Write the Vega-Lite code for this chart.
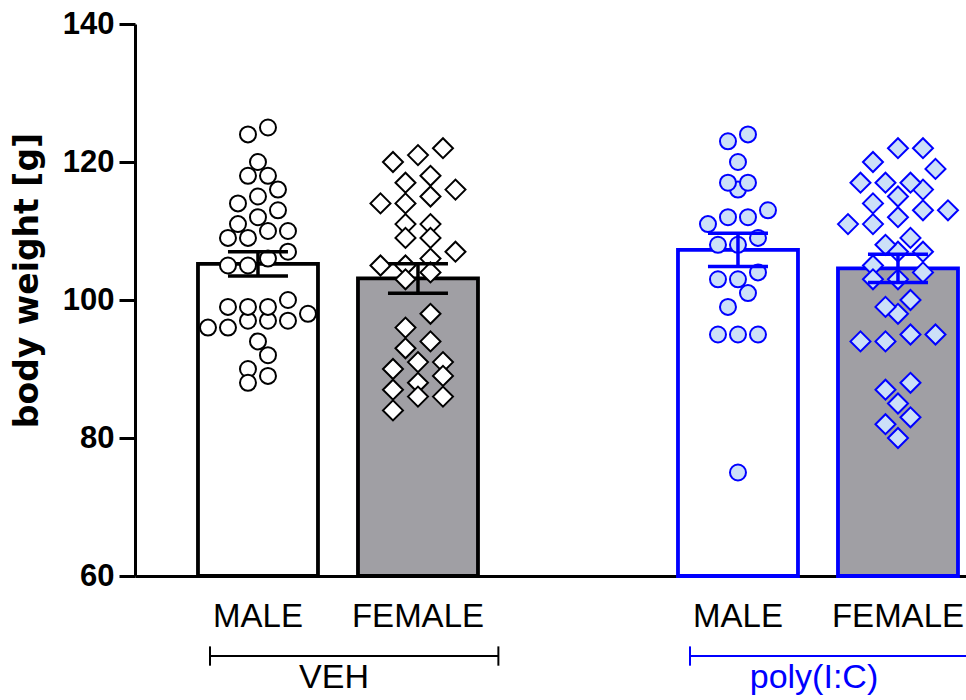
{
  "$schema": "https://vega.github.io/schema/vega-lite/v6.json",
  "width": 831,
  "height": 552,
  "autosize": {"type": "none"},
  "padding": {"left": 135, "top": 24, "right": 0, "bottom": 124},
  "background": "white",
  "config": {"view": {"stroke": null}, "font": "Liberation Sans"},
  "datasets": {
    "w": [
      {"g":"VEH","s":"MALE","w":124},{"g":"VEH","s":"MALE","w":125},{"g":"VEH","s":"MALE","w":120},{"g":"VEH","s":"MALE","w":118},{"g":"VEH","s":"MALE","w":118},{"g":"VEH","s":"MALE","w":116},{"g":"VEH","s":"MALE","w":115},{"g":"VEH","s":"MALE","w":114},{"g":"VEH","s":"MALE","w":113},{"g":"VEH","s":"MALE","w":112},{"g":"VEH","s":"MALE","w":111},{"g":"VEH","s":"MALE","w":109},{"g":"VEH","s":"MALE","w":109},{"g":"VEH","s":"MALE","w":110},{"g":"VEH","s":"MALE","w":110},{"g":"VEH","s":"MALE","w":107},{"g":"VEH","s":"MALE","w":106},{"g":"VEH","s":"MALE","w":105},{"g":"VEH","s":"MALE","w":105},{"g":"VEH","s":"MALE","w":98},{"g":"VEH","s":"MALE","w":97},{"g":"VEH","s":"MALE","w":97},{"g":"VEH","s":"MALE","w":99},{"g":"VEH","s":"MALE","w":99},{"g":"VEH","s":"MALE","w":100},{"g":"VEH","s":"MALE","w":99},{"g":"VEH","s":"MALE","w":96},{"g":"VEH","s":"MALE","w":96},{"g":"VEH","s":"MALE","w":97},{"g":"VEH","s":"MALE","w":94},{"g":"VEH","s":"MALE","w":92},{"g":"VEH","s":"MALE","w":90},{"g":"VEH","s":"MALE","w":89},{"g":"VEH","s":"MALE","w":88},
      {"g":"VEH","s":"FEMALE","w":121},{"g":"VEH","s":"FEMALE","w":122},{"g":"VEH","s":"FEMALE","w":120},{"g":"VEH","s":"FEMALE","w":118},{"g":"VEH","s":"FEMALE","w":116},{"g":"VEH","s":"FEMALE","w":117},{"g":"VEH","s":"FEMALE","w":114},{"g":"VEH","s":"FEMALE","w":115},{"g":"VEH","s":"FEMALE","w":114},{"g":"VEH","s":"FEMALE","w":111},{"g":"VEH","s":"FEMALE","w":111},{"g":"VEH","s":"FEMALE","w":109},{"g":"VEH","s":"FEMALE","w":109},{"g":"VEH","s":"FEMALE","w":107},{"g":"VEH","s":"FEMALE","w":106},{"g":"VEH","s":"FEMALE","w":105},{"g":"VEH","s":"FEMALE","w":105},{"g":"VEH","s":"FEMALE","w":104},{"g":"VEH","s":"FEMALE","w":103},{"g":"VEH","s":"FEMALE","w":98},{"g":"VEH","s":"FEMALE","w":96},{"g":"VEH","s":"FEMALE","w":93},{"g":"VEH","s":"FEMALE","w":94},{"g":"VEH","s":"FEMALE","w":91},{"g":"VEH","s":"FEMALE","w":90},{"g":"VEH","s":"FEMALE","w":91},{"g":"VEH","s":"FEMALE","w":88},{"g":"VEH","s":"FEMALE","w":89},{"g":"VEH","s":"FEMALE","w":86},{"g":"VEH","s":"FEMALE","w":86},{"g":"VEH","s":"FEMALE","w":87},{"g":"VEH","s":"FEMALE","w":84},
      {"g":"poly(I:C)","s":"MALE","w":123},{"g":"poly(I:C)","s":"MALE","w":124},{"g":"poly(I:C)","s":"MALE","w":120},{"g":"poly(I:C)","s":"MALE","w":116},{"g":"poly(I:C)","s":"MALE","w":117},{"g":"poly(I:C)","s":"MALE","w":117},{"g":"poly(I:C)","s":"MALE","w":113},{"g":"poly(I:C)","s":"MALE","w":112},{"g":"poly(I:C)","s":"MALE","w":112},{"g":"poly(I:C)","s":"MALE","w":111},{"g":"poly(I:C)","s":"MALE","w":108},{"g":"poly(I:C)","s":"MALE","w":108},{"g":"poly(I:C)","s":"MALE","w":109},{"g":"poly(I:C)","s":"MALE","w":103},{"g":"poly(I:C)","s":"MALE","w":103},{"g":"poly(I:C)","s":"MALE","w":104},{"g":"poly(I:C)","s":"MALE","w":101},{"g":"poly(I:C)","s":"MALE","w":99},{"g":"poly(I:C)","s":"MALE","w":95},{"g":"poly(I:C)","s":"MALE","w":95},{"g":"poly(I:C)","s":"MALE","w":95},{"g":"poly(I:C)","s":"MALE","w":75},
      {"g":"poly(I:C)","s":"FEMALE","w":122},{"g":"poly(I:C)","s":"FEMALE","w":122},{"g":"poly(I:C)","s":"FEMALE","w":119},{"g":"poly(I:C)","s":"FEMALE","w":120},{"g":"poly(I:C)","s":"FEMALE","w":117},{"g":"poly(I:C)","s":"FEMALE","w":116},{"g":"poly(I:C)","s":"FEMALE","w":117},{"g":"poly(I:C)","s":"FEMALE","w":117},{"g":"poly(I:C)","s":"FEMALE","w":115},{"g":"poly(I:C)","s":"FEMALE","w":113},{"g":"poly(I:C)","s":"FEMALE","w":114},{"g":"poly(I:C)","s":"FEMALE","w":113},{"g":"poly(I:C)","s":"FEMALE","w":111},{"g":"poly(I:C)","s":"FEMALE","w":111},{"g":"poly(I:C)","s":"FEMALE","w":112},{"g":"poly(I:C)","s":"FEMALE","w":109},{"g":"poly(I:C)","s":"FEMALE","w":107},{"g":"poly(I:C)","s":"FEMALE","w":107},{"g":"poly(I:C)","s":"FEMALE","w":108},{"g":"poly(I:C)","s":"FEMALE","w":105},{"g":"poly(I:C)","s":"FEMALE","w":104},{"g":"poly(I:C)","s":"FEMALE","w":103},{"g":"poly(I:C)","s":"FEMALE","w":103},{"g":"poly(I:C)","s":"FEMALE","w":98},{"g":"poly(I:C)","s":"FEMALE","w":99},{"g":"poly(I:C)","s":"FEMALE","w":100},{"g":"poly(I:C)","s":"FEMALE","w":94},{"g":"poly(I:C)","s":"FEMALE","w":95},{"g":"poly(I:C)","s":"FEMALE","w":94},{"g":"poly(I:C)","s":"FEMALE","w":95},{"g":"poly(I:C)","s":"FEMALE","w":88},{"g":"poly(I:C)","s":"FEMALE","w":87},{"g":"poly(I:C)","s":"FEMALE","w":85},{"g":"poly(I:C)","s":"FEMALE","w":83},{"g":"poly(I:C)","s":"FEMALE","w":82},{"g":"poly(I:C)","s":"FEMALE","w":80}
    ],
    "br": [
      {"label": "VEH", "start": "VEH MALE", "end": "VEH FEMALE"},
      {"label": "poly(I:C)", "start": "poly(I:C) MALE", "end": "poly(I:C) FEMALE"}
    ]
  },
  "layer": [
    {
      "data": {"name": "w"},
      "transform": [{"calculate": "datum.g + ' ' + datum.s", "as": "cat"}],
      "mark": {"type": "bar", "strokeWidth": 3.8},
      "encoding": {
        "x": {
          "field": "cat", "type": "nominal",
          "scale": {"domain": ["VEH MALE", "VEH FEMALE", "gap", "poly(I:C) MALE", "poly(I:C) FEMALE"], "paddingInner": 0.25, "paddingOuter": 0.221875, "align": 0.887},
          "axis": {"title": null, "ticks": false, "domainWidth": 3, "domainColor": "black", "labelFontSize": 33, "labelColor": "black", "labelPadding": 24, "labelAngle": 0,
                   "labelExpr": "indexof(datum.value, 'FEMALE') >= 0 ? 'FEMALE' : (indexof(datum.value, 'MALE') >= 0 ? 'MALE' : '')"}
        },
        "y": {
          "aggregate": "mean", "field": "w", "type": "quantitative", "title": "body weight [g]",
          "scale": {"domain": [60, 140], "zero": false, "nice": false},
          "axis": {"values": [60, 80, 100, 120, 140], "grid": false, "domainWidth": 3, "domainColor": "black", "tickWidth": 3, "tickColor": "black", "tickSize": 16,
                   "labelFontSize": 31, "labelFontWeight": "bold", "labelColor": "black", "labelPadding": 5,
                   "titleFont": "DejaVu Sans", "titleFontSize": 33, "titleFontWeight": "bold", "titleColor": "black", "titlePadding": 18, "titleY": 256}
        },
        "y2": {"datum": 60},
        "fill": {"field": "s", "type": "nominal", "scale": {"domain": ["MALE", "FEMALE"], "range": ["#ffffff", "#a09fa4"]}, "legend": null},
        "stroke": {"field": "g", "type": "nominal", "scale": {"domain": ["VEH", "poly(I:C)"], "range": ["#000000", "#0000ff"]}, "legend": null}
      }
    },
    {
      "data": {"name": "w"},
      "transform": [
        {"calculate": "datum.g + ' ' + datum.s", "as": "cat"},
        {"bin": {"step": 3}, "field": "w", "as": "wb"},
        {"window": [{"op": "row_number", "as": "rk"}, {"op": "count", "as": "n"}], "groupby": ["cat", "wb"], "sort": [{"field": "w"}], "frame": [null, null]},
        {"calculate": "(datum.rk - (datum.n + 1) / 2) * (datum.s == 'MALE' ? 20 : 25)", "as": "xo"}
      ],
      "mark": {"type": "point", "filled": true, "strokeWidth": 2, "opacity": 1},
      "encoding": {
        "x": {"field": "cat", "type": "nominal"},
        "xOffset": {"field": "xo", "type": "quantitative", "scale": {"domain": [-60, 60]}},
        "y": {"field": "w", "type": "quantitative", "title": "body weight [g]"},
        "shape": {"field": "s", "type": "nominal", "scale": {"domain": ["MALE", "FEMALE"], "range": ["circle", "diamond"]}, "legend": null},
        "size": {"field": "s", "type": "ordinal", "scale": {"domain": ["MALE", "FEMALE"], "range": [256, 400]}, "legend": null},
        "fill": {"field": "g", "type": "nominal", "scale": {"domain": ["VEH", "poly(I:C)"], "range": ["#ffffff", "#cce0f8"]}, "legend": null},
        "stroke": {"field": "g", "type": "nominal", "legend": null}
      }
    },
    {
      "data": {"name": "w"},
      "transform": [{"calculate": "datum.g + ' ' + datum.s", "as": "cat"}],
      "mark": {"type": "errorbar", "extent": "stderr", "thickness": 3.5, "opacity": 1, "rule": {"opacity": 1}, "ticks": {"size": 60, "thickness": 3.5, "opacity": 1}},
      "encoding": {
        "x": {"field": "cat", "type": "nominal"},
        "y": {"field": "w", "type": "quantitative", "title": "body weight [g]"},
        "color": {"field": "g", "type": "nominal", "scale": {"domain": ["VEH", "poly(I:C)"], "range": ["#000000", "#0000ff"]}, "legend": null}
      }
    },
    {
      "data": {"name": "br"},
      "mark": {"type": "rule", "strokeWidth": 2},
      "encoding": {
        "x": {"field": "start", "type": "nominal", "bandPosition": 0.1},
        "x2": {"field": "end", "bandPosition": 1.17},
        "y": {"datum": 48.4},
        "color": {"field": "label", "type": "nominal", "legend": null}
      }
    },
    {
      "data": {"name": "br"},
      "mark": {"type": "rule", "strokeWidth": 2},
      "encoding": {
        "x": {"field": "start", "type": "nominal", "bandPosition": 0.1},
        "y": {"datum": 49.8},
        "y2": {"datum": 47.0},
        "color": {"field": "label", "type": "nominal", "legend": null}
      }
    },
    {
      "data": {"name": "br"},
      "mark": {"type": "rule", "strokeWidth": 2},
      "encoding": {
        "x": {"field": "end", "type": "nominal", "bandPosition": 1.17},
        "y": {"datum": 49.8},
        "y2": {"datum": 47.0},
        "color": {"field": "label", "type": "nominal", "legend": null}
      }
    },
    {
      "data": {"name": "br"},
      "mark": {"type": "text", "fontSize": 34, "baseline": "alphabetic", "align": "center"},
      "encoding": {
        "x": {"field": "end", "type": "nominal", "bandPosition": -0.2},
        "y": {"datum": 43.7},
        "text": {"field": "label"},
        "color": {"field": "label", "type": "nominal", "legend": null}
      }
    }
  ],
  "resolve": {"scale": {"fill": "independent", "xOffset": "independent"}}
}
